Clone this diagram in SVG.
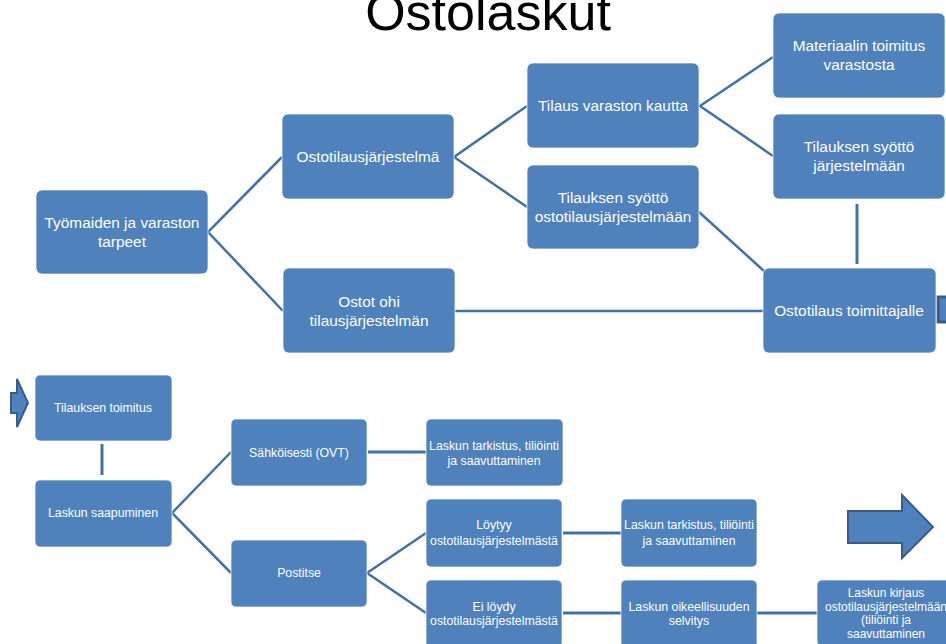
<svg xmlns="http://www.w3.org/2000/svg" width="946" height="644" viewBox="0 0 946 644">
<style>
.box{fill:#4F81BD;stroke:#ffffff;stroke-opacity:0.7;stroke-width:1}
.t{fill:#ffffff;font-family:"Liberation Sans",Arial,sans-serif;font-size:15.4px;text-anchor:middle}
.s{fill:#ffffff;font-family:"Liberation Sans",Arial,sans-serif;font-size:12.3px;text-anchor:middle}
.ln{stroke:#4470A8;stroke-width:2.5;fill:none}
.lb{stroke:#4470A8;stroke-width:3;fill:none}
.arr{fill:#4F81BD;stroke:#385D8A;stroke-width:2}
.title{fill:#000000;font-family:"Liberation Sans",Arial,sans-serif;font-size:52px;text-anchor:middle}
</style>
<rect width="946" height="644" fill="#ffffff"/>
<text class="title" x="488" y="30">Ostolaskut</text>

<g id="connectors">
<polyline class="ln" points="282,157 208,232 283,311"/>
<polyline class="ln" points="527,106 454,157 527,207"/>
<polyline class="ln" points="773,57 700,106 773,156"/>
<line class="ln" x1="699" y1="212" x2="764" y2="271"/>
<line class="lb" x1="857" y1="204" x2="857" y2="264"/>
<line class="ln" x1="455" y1="311" x2="763" y2="311"/>
<line class="lb" x1="102" y1="444" x2="102" y2="475"/>
<polyline class="ln" points="231,452 172,513 231,573"/>
<line class="lb" x1="368" y1="452" x2="426" y2="452"/>
<polyline class="ln" points="426,533 367,573 426,613"/>
<line class="lb" x1="563" y1="533" x2="621" y2="533"/>
<line class="lb" x1="563" y1="613" x2="621" y2="613"/>
<line class="lb" x1="757" y1="613" x2="817" y2="613"/>
</g>

<g id="arrow-top-right"><polygon class="arr" points="938,297 952,297 952,286 975,310 952,334 952,322 938,322" style="stroke-width:3"/></g>
<g id="arrow-left"><polygon class="arr" points="11,393 17,393 17,379 28,403 17,427 17,413 11,413"/></g>
<g id="arrow-right"><polygon class="arr" points="848,511 902,511 902,495 933,527 902,558 902,543 848,543"/></g>

<g id="n1"><rect class="box" x="36" y="190" width="172" height="84" rx="6"/>
<text class="t" x="122" y="228">Työmaiden ja varaston</text><text class="t" x="122" y="247">tarpeet</text></g>
<g id="n2"><rect class="box" x="282" y="114" width="172" height="85" rx="6"/>
<text class="t" x="368" y="162">Ostotilausjärjestelmä</text></g>
<g id="n3"><rect class="box" x="283" y="268" width="172" height="85" rx="6"/>
<text class="t" x="369" y="307">Ostot ohi</text><text class="t" x="369" y="326">tilausjärjestelmän</text></g>
<g id="n4"><rect class="box" x="527" y="63" width="172" height="85" rx="6"/>
<text class="t" x="613" y="111">Tilaus varaston kautta</text></g>
<g id="n5"><rect class="box" x="527" y="165" width="172" height="84" rx="6"/>
<text class="t" x="613" y="203">Tilauksen syöttö</text><text class="t" x="613" y="222">ostotilausjärjestelmään</text></g>
<g id="n6"><rect class="box" x="773" y="13" width="172" height="85" rx="6"/>
<text class="t" x="859" y="51">Materiaalin toimitus</text><text class="t" x="859" y="70">varastosta</text></g>
<g id="n7"><rect class="box" x="773" y="114" width="172" height="85" rx="6"/>
<text class="t" x="859" y="152">Tilauksen syöttö</text><text class="t" x="859" y="171">järjestelmään</text></g>
<g id="n8"><rect class="box" x="763" y="268" width="173" height="85" rx="6"/>
<text class="t" x="849" y="316">Ostotilaus toimittajalle</text></g>

<g id="b1"><rect class="box" x="35" y="375" width="137" height="66" rx="5"/>
<text class="s" x="103" y="412">Tilauksen toimitus</text></g>
<g id="b2"><rect class="box" x="35" y="480" width="137" height="67" rx="5"/>
<text class="s" x="103" y="517">Laskun saapuminen</text></g>
<g id="b3"><rect class="box" x="231" y="419" width="136" height="67" rx="5"/>
<text class="s" x="299" y="457">Sähköisesti (OVT)</text></g>
<g id="b4"><rect class="box" x="426" y="419" width="137" height="67" rx="5"/>
<text class="s" x="494" y="450">Laskun tarkistus, tiliöinti</text><text class="s" x="494" y="465">ja saavuttaminen</text></g>
<g id="b5"><rect class="box" x="231" y="540" width="136" height="67" rx="5"/>
<text class="s" x="299" y="577">Postitse</text></g>
<g id="b6"><rect class="box" x="426" y="499" width="136" height="68" rx="5"/>
<text class="s" x="494" y="529">Löytyy</text><text class="s" x="494" y="545">ostotilausjärjestelmästä</text></g>
<g id="b7"><rect class="box" x="621" y="499" width="136" height="68" rx="5"/>
<text class="s" x="689" y="529">Laskun tarkistus, tiliöinti</text><text class="s" x="689" y="545">ja saavuttaminen</text></g>
<g id="b8"><rect class="box" x="426" y="580" width="136" height="68" rx="5"/>
<text class="s" x="494" y="611">Ei löydy</text><text class="s" x="494" y="625">ostotilausjärjestelmästä</text></g>
<g id="b9"><rect class="box" x="621" y="580" width="136" height="68" rx="5"/>
<text class="s" x="689" y="611">Laskun oikeellisuuden</text><text class="s" x="689" y="625">selvitys</text></g>
<g id="b10"><rect class="box" x="817" y="580" width="137" height="66" rx="5"/>
<text class="s" x="886" y="597" style="font-size:12px">Laskun kirjaus</text>
<text class="s" x="886" y="611" style="font-size:12px">ostotilausjärjestelmään</text>
<text class="s" x="886" y="624" style="font-size:12px">(tiliöinti ja</text>
<text class="s" x="886" y="638" style="font-size:12px">saavuttaminen</text></g>
</svg>
